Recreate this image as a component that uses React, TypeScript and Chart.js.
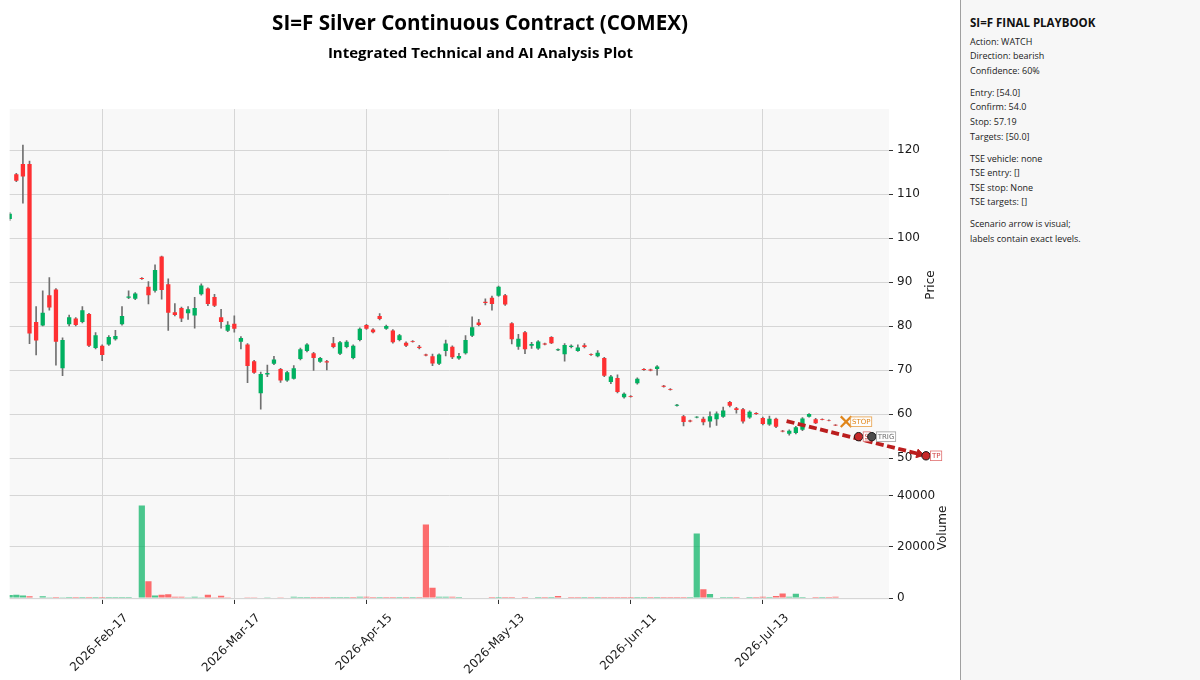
import React, { useEffect, useRef } from "react";
import { Chart, registerables } from "chart.js";

Chart.register(...registerables);

// ---------- DATA ----------
const opens = [
  104.3, 114.5, 116.8, 116.8, 80.9, 80.1, 87.0, 88.3, 70.4, 80.4,
  81.7, 80.9, 82.7, 75.0, 75.5, 75.8, 77.0, 80.4, 86.4, 86.2,
  90.9, 88.9, 88.0, 95.8, 89.5, 83.1, 84.1, 82.9, 82.4, 87.2,
  88.5, 86.6, 82.0, 78.9, 80.5, 76.4, 75.8, 72.0, 64.7, 69.0,
  71.4, 70.2, 67.6, 68.0, 72.5, 74.3, 73.8, 71.9, 72.0, 76.1,
  73.7, 75.2, 72.7, 76.8, 80.2, 79.2, 82.3, 79.4, 79.0, 76.8,
  76.2, 76.6, 75.3, 73.5, 73.1, 71.4, 74.3, 75.3, 72.6, 73.8,
  77.8, 80.8, 85.5, 86.4, 86.9, 87.0, 80.6, 75.3, 78.6, 75.5,
  74.9, 76.0, 77.5, 74.5, 73.6, 75.2, 74.3, 75.6, 73.6, 73.1,
  72.7, 67.3, 68.2, 63.8, 64.1, 67.0, 70.2, 70.1, 70.2, 66.4,
  65.7, 61.9, 59.5, 58.5, 59.2, 58.9, 58.3, 58.8, 59.4, 62.7,
  61.3, 61.1, 59.2, 60.2, 59.1, 57.6, 58.9, 56.2, 55.5, 55.7,
  56.4, 59.4, 58.8, 58.85, 58.65, 57.55,
];
const highs = [
  105.8, 114.7, 121.1, 117.5, 84.4, 88.0, 91.0, 88.5, 77.3, 82.5,
  81.9, 84.4, 82.9, 78.5, 75.7, 77.8, 79.0, 84.4, 88.0, 87.6,
  91.0, 90.1, 93.9, 95.9, 90.7, 85.1, 84.3, 84.4, 86.5, 89.6,
  88.7, 87.2, 83.8, 81.0, 82.3, 77.6, 76.0, 72.2, 69.5, 71.1,
  73.1, 70.4, 69.7, 71.0, 75.0, 76.0, 74.0, 72.9, 72.2, 77.4,
  76.5, 76.7, 75.7, 79.6, 80.4, 79.4, 82.8, 80.2, 79.2, 78.1,
  76.4, 76.7, 75.6, 73.6, 73.6, 73.7, 76.8, 75.5, 73.8, 77.8,
  82.1, 81.5, 86.2, 86.8, 89.1, 87.2, 80.8, 78.1, 78.8, 76.3,
  76.7, 76.1, 77.6, 74.8, 76.0, 75.7, 75.7, 76.0, 73.7, 74.4,
  72.9, 68.8, 68.9, 64.8, 64.2, 68.2, 70.3, 70.2, 71.0, 66.5,
  65.8, 62.2, 59.7, 58.6, 59.4, 59.3, 60.5, 60.5, 61.6, 62.9,
  61.5, 61.3, 60.7, 60.3, 59.3, 59.5, 59.1, 56.3, 56.4, 57.2,
  59.2, 60.1, 59.0, 58.9, 58.7, 57.6,
];
const lows = [
  104.0, 112.8, 107.9, 76.0, 73.4, 80.0, 83.6, 71.1, 68.7, 80.0,
  80.0, 80.7, 75.3, 74.8, 72.1, 75.6, 76.8, 80.2, 86.2, 86.0,
  90.6, 85.0, 87.7, 86.1, 79.0, 82.3, 81.0, 81.5, 79.5, 87.0,
  84.6, 84.4, 79.5, 78.7, 78.6, 74.8, 67.1, 69.2, 61.1, 68.5,
  71.2, 67.2, 67.4, 67.9, 72.3, 74.1, 69.9, 71.7, 70.0, 75.0,
  73.5, 75.0, 72.5, 76.6, 79.2, 78.4, 81.4, 79.2, 76.1, 76.6,
  75.3, 76.3, 74.8, 73.2, 71.0, 71.2, 73.2, 72.6, 72.4, 73.6,
  77.6, 80.0, 84.8, 83.6, 86.7, 84.7, 75.9, 74.7, 73.7, 74.9,
  74.7, 75.7, 76.0, 74.4, 72.0, 75.0, 74.2, 75.0, 73.3, 73.0,
  68.5, 66.9, 64.8, 63.6, 63.8, 66.8, 69.9, 69.8, 68.8, 66.1,
  65.4, 61.8, 57.3, 58.2, 59.1, 57.5, 57.0, 57.4, 59.2, 61.6,
  60.2, 57.9, 59.0, 59.9, 57.5, 57.4, 56.9, 55.9, 55.2, 55.5,
  56.2, 59.3, 57.8, 58.65, 58.45, 57.35,
];
const closes = [
  105.5, 113.0, 114.0, 78.3, 76.7, 83.0, 84.2, 76.4, 76.8, 82.0,
  80.2, 83.6, 75.5, 77.9, 73.4, 77.5, 77.7, 82.3, 86.7, 87.4,
  90.7, 87.0, 92.7, 88.2, 83.0, 82.5, 81.7, 83.8, 84.1, 89.2,
  85.0, 84.6, 80.9, 80.3, 79.4, 77.3, 70.9, 69.4, 69.1, 69.3,
  72.4, 67.6, 69.5, 70.4, 74.7, 75.8, 72.7, 72.7, 71.7, 75.2,
  76.3, 76.4, 75.5, 79.4, 79.4, 78.6, 81.6, 80.0, 76.3, 77.9,
  75.5, 76.4, 75.0, 73.3, 71.5, 73.5, 76.0, 72.9, 73.2, 76.8,
  79.7, 80.2, 85.2, 85.0, 88.9, 84.9, 77.0, 77.1, 74.7, 75.9,
  76.5, 75.8, 76.1, 74.7, 75.7, 75.5, 75.1, 75.2, 73.4, 73.9,
  68.7, 68.5, 65.0, 64.6, 63.9, 68.0, 70.0, 69.9, 70.8, 66.2,
  65.5, 62.1, 58.2, 58.3, 59.35, 58.1, 59.5, 60.1, 60.8, 61.9,
  60.9, 58.3, 60.5, 60.0, 57.7, 58.9, 57.1, 56.0, 56.2, 57.0,
  59.0, 60.0, 57.9, 58.7, 58.5, 57.4,
];
const volumes = [
  1200, 1300, 1000, 700, 150, 700, 60, 400, 60, 400,
  40, 40, 40, 40, 40, 40, 40, 40, 40, 150,
  36300, 6600, 1000, 1300, 1500, 500, 500, 100, 500, 100,
  1300, 100, 900, 60, 200, 200, 60, 60, 150, 60,
  150, 60, 150, 500, 40, 40, 40, 40, 40, 40,
  40, 40, 40, 500, 500, 40, 40, 40, 40, 40,
  40, 40, 40, 28800, 4000, 500, 500, 500, 40, 150,
  150, 150, 150, 40, 40, 40, 40, 150, 40, 150,
  40, 40, 40, 800, 150, 40, 40, 40, 40, 40,
  40, 40, 40, 40, 40, 40, 40, 40, 40, 40,
  40, 40, 40, 40, 25300, 3400, 1600, 200, 40, 40,
  40, 200, 40, 40, 500, 40, 800, 1800, 500, 1700,
  40, 200, 40, 40, 40, 500,
];

const dateTickIndex = [14, 34, 54, 74, 94, 114];
const dateTickLabels = ["2026-Feb-17", "2026-Mar-17", "2026-Apr-15", "2026-May-13", "2026-Jun-11", "2026-Jul-13"];
const priceTicks = [50, 60, 70, 80, 90, 100, 110, 120];
const volumeTicks = [0, 20000, 40000];
const indexRange = [0, 133.1];
const priceRange = [45.0, 129.32];
const volumeRange = [-784, 46270];

// scenario arrow (start -> arrow head) and playbook markers
const scenarioX = [117.6, 137.7];
const scenarioY = [58.4, 50.9];
const markerNames = ["STOP", "S", "TRIG", "TP"];
const markerX = [126.6, 128.5, 130.5, 138.7];
const markerY = [58.25, 54.85, 54.85, 50.5];

const chartTitle = "SI=F Silver Continuous Contract (COMEX)";
const chartSubtitle = "Integrated Technical and AI Analysis Plot";
const priceAxisTitle = "Price";
const volumeAxisTitle = "Volume";

const panelTitle = "SI=F FINAL PLAYBOOK";
const panelGroups = [
  ["Action: WATCH", "Direction: bearish", "Confidence: 60%"],
  ["Entry: [54.0]", "Confirm: 54.0", "Stop: 57.19", "Targets: [50.0]"],
  ["TSE vehicle: none", "TSE entry: []", "TSE stop: None", "TSE targets: []"],
  ["Scenario arrow is visual;", "labels contain exact levels."],
];

// ---------- STYLE ----------
const UP = "#00b060";
const DOWN = "#fe3032";
const UP_VOL = "rgba(0,176,96,0.7)";
const DOWN_VOL = "rgba(254,48,50,0.7)";
const WICK = "#707070";
const PANEL_BG = "#f8f8f8";
const GRID = "#d6d6d6";
const MPL_FONT = "'DejaVu Sans', sans-serif";
const TITLE_FONT = "'Open Sans', sans-serif";
const ARROW = "#bb1e1e";

const markerStyles: Record<string, any> = {
  STOP: { pointStyle: "crossRot", radius: 7.5, bg: "#e0861a", border: "#e0861a", bw: 2.2, text: "#e0861a", box: "#e8a048" },
  S: { pointStyle: "circle", radius: 4.2, bg: "#c62828", border: "#1a1a1a", bw: 1, text: "#d04040", box: "#e07070" },
  TRIG: { pointStyle: "circle", radius: 4.2, bg: "#4d4d4d", border: "#1a1a1a", bw: 1, text: "#707070", box: "#a0a0a0" },
  TP: { pointStyle: "circle", radius: 4.2, bg: "#c62828", border: "#1a1a1a", bw: 1, text: "#d04040", box: "#e07070" },
};

const decorPlugin = {
  id: "decor",
  beforeDraw(chart: any) {
    const { ctx, chartArea } = chart;
    const yP = chart.scales.y;
    const yV = chart.scales.yVol;
    ctx.save();
    ctx.fillStyle = "#ffffff";
    ctx.fillRect(0, 0, chart.width, chart.height);
    ctx.fillStyle = PANEL_BG;
    ctx.fillRect(chartArea.left, yP.top, chartArea.right - chartArea.left, yP.bottom - yP.top);
    ctx.fillRect(chartArea.left, yV.top, chartArea.right - chartArea.left, yV.bottom - yV.top);
    ctx.restore();
  },
  afterDatasetDraw(chart: any, args: any) {
    const ds = chart.data.datasets[args.index];
    const ctx = chart.ctx;
    const area = chart.chartArea;
    // points lying beyond the plot area (scenario end) are still drawn by the point element itself
    if (ds.drawOutside) {
      const full = { left: 0, top: 0, right: chart.width, bottom: chart.height };
      args.meta.data.forEach((pt: any) => {
        if (pt.x > area.right || pt.x < area.left || pt.y < area.top || pt.y > area.bottom) {
          ctx.save();
          pt.draw(ctx, full);
          ctx.restore();
        }
      });
    }
    if (!ds.markerName) return;
    const st = markerStyles[ds.markerName];
    const pt = args.meta.data[0];
    if (!pt) return;
    ctx.save();
    ctx.font = `7px ${MPL_FONT}`;
    const w = ctx.measureText(ds.markerName).width + 2.6;
    const h = 9.6;
    const x0 = pt.x + 4.6;
    const y0 = pt.y - h / 2;
    ctx.fillStyle = "rgba(255,255,255,0.75)";
    ctx.fillRect(x0, y0, w, h);
    ctx.strokeStyle = st.box;
    ctx.lineWidth = 0.8;
    ctx.strokeRect(x0, y0, w, h);
    ctx.fillStyle = st.text;
    ctx.textBaseline = "middle";
    ctx.textAlign = "left";
    ctx.fillText(ds.markerName, x0 + 1.3, pt.y + 0.3);
    ctx.restore();
  },
  afterDraw(chart: any) {
    const ctx = chart.ctx;
    ctx.save();
    ctx.fillStyle = "#000";
    ctx.textAlign = "center";
    ctx.textBaseline = "alphabetic";
    ctx.font = `bold 20.6px ${TITLE_FONT}`;
    ctx.fillText(chartTitle, 480, 29.5);
    ctx.font = `bold 15px ${TITLE_FONT}`;
    ctx.fillText(chartSubtitle, 480.5, 57.5);
    ctx.fillStyle = "#1a1a1a";
    ctx.font = `12px ${MPL_FONT}`;
    ctx.textBaseline = "middle";
    ctx.translate(931, 285);
    ctx.rotate(-Math.PI / 2);
    ctx.fillText(priceAxisTitle, 0, 0);
    ctx.restore();
    ctx.save();
    ctx.fillStyle = "#1a1a1a";
    ctx.font = `12px ${MPL_FONT}`;
    ctx.textAlign = "center";
    ctx.textBaseline = "middle";
    ctx.translate(943, 528);
    ctx.rotate(-Math.PI / 2);
    ctx.fillText(volumeAxisTitle, 0, 0);
    ctx.restore();
  },
};

export default function App() {
  const canvasRef = useRef<HTMLCanvasElement | null>(null);

  useEffect(() => {
    if (!canvasRef.current) return;
    const idx = opens.map((_, i) => i);
    const bodyColors = idx.map((i) => (closes[i] >= opens[i] ? UP : DOWN));
    const volColors = idx.map((i) => (i === 0 || closes[i] > closes[i - 1] ? UP_VOL : DOWN_VOL));

    const markerDatasets = markerNames
      .map((name, k) => {
        const st = markerStyles[name];
        return {
          type: "line",
          label: name,
          markerName: name,
          drawOutside: true,
          data: [{ x: markerX[k], y: markerY[k] }],
          showLine: false,
          clip: false,
          yAxisID: "y",
          pointStyle: st.pointStyle,
          pointRadius: st.radius,
          pointBackgroundColor: st.bg,
          pointBorderColor: st.border,
          pointBorderWidth: st.bw,
        };
      })
      .reverse();

    const tickFont = { family: MPL_FONT, size: 12 };
    const axisGrid = { color: GRID, lineWidth: 1, tickLength: 4, tickColor: "#333", tickWidth: 1, drawTicks: true, offset: false };

    const chart = new Chart(canvasRef.current, {
      type: "bar",
      data: {
        datasets: [
          ...markerDatasets,
          {
            type: "line",
            label: "arrowhead",
            drawOutside: true,
            data: [{ x: scenarioX[1], y: scenarioY[1] }],
            showLine: false,
            clip: false,
            yAxisID: "y",
            pointStyle: "triangle",
            pointRadius: 5,
            pointRotation: 104,
            pointBackgroundColor: ARROW,
            pointBorderColor: ARROW,
            pointBorderWidth: 1,
          },
          {
            type: "line",
            label: "scenario",
            data: scenarioX.map((x, k) => ({ x, y: scenarioY[k] })),
            borderColor: ARROW,
            borderWidth: 3.8,
            borderDash: [8, 3.5],
            pointRadius: 0,
            clip: false,
            yAxisID: "y",
          },
          {
            type: "bar",
            label: "body",
            data: idx.map((i) => ({ x: i, y: [opens[i], closes[i]] })),
            backgroundColor: bodyColors,
            borderWidth: 0,
            grouped: false,
            categoryPercentage: 1,
            barPercentage: 0.65,
            yAxisID: "y",
          },
          {
            type: "bar",
            label: "wick",
            data: idx.map((i) => ({ x: i, y: [lows[i], highs[i]] })),
            backgroundColor: WICK,
            borderWidth: 0,
            grouped: false,
            categoryPercentage: 1,
            barPercentage: 1,
            maxBarThickness: 1,
            yAxisID: "y",
          },
          {
            type: "bar",
            label: "volume",
            data: idx.map((i) => ({ x: i, y: volumes[i] })),
            backgroundColor: volColors,
            borderWidth: 0,
            grouped: false,
            categoryPercentage: 1,
            barPercentage: 0.94,
            yAxisID: "yVol",
          },
        ] as any,
      },
      options: {
        responsive: false,
        animation: false,
        events: [],
        layout: { padding: { top: 109, left: 8, right: 0, bottom: 0 } },
        plugins: { legend: { display: false }, tooltip: { enabled: false } },
        scales: {
          x: {
            type: "linear",
            position: "bottom",
            min: indexRange[0],
            max: indexRange[1],
            offset: false,
            grid: axisGrid,
            border: { display: false },
            afterBuildTicks: (s: any) => {
              s.ticks = dateTickIndex.map((v) => ({ value: v }));
            },
            afterFit: (s: any) => {
              s.height = 80;
            },
            ticks: {
              autoSkip: false,
              minRotation: 45,
              maxRotation: 45,
              labelOffset: 24,
              padding: 7,
              color: "#1a1a1a",
              font: tickFont,
              callback: (v: any) => {
                const k = dateTickIndex.indexOf(Number(v));
                return k >= 0 ? dateTickLabels[k] : "";
              },
            },
          },
          y: {
            type: "linear",
            position: "right",
            stack: "panels",
            stackWeight: 371,
            min: priceRange[0],
            max: priceRange[1],
            beginAtZero: false,
            grid: axisGrid,
            border: { display: false },
            afterBuildTicks: (s: any) => {
              s.ticks = priceTicks.map((v) => ({ value: v }));
            },
            afterFit: (s: any) => {
              s.width = 71;
            },
            ticks: { padding: 4, color: "#1a1a1a", font: tickFont, callback: (v: any) => String(v) },
          },
          yVol: {
            type: "linear",
            position: "right",
            stack: "panels",
            stackWeight: 120,
            min: volumeRange[0],
            max: volumeRange[1],
            beginAtZero: false,
            grid: axisGrid,
            border: { display: false },
            afterBuildTicks: (s: any) => {
              s.ticks = volumeTicks.map((v) => ({ value: v }));
            },
            afterFit: (s: any) => {
              s.width = 71;
            },
            ticks: { padding: 4, color: "#1a1a1a", font: tickFont, callback: (v: any) => String(v) },
          },
        },
      } as any,
      plugins: [decorPlugin as any],
    });
    return () => chart.destroy();
  }, []);

  const lineStep = 14.6;
  const groupGap = 22;
  const bodySize = 9;
  let baseline = 45.3;
  const lines: { text: string; top: number }[] = [];
  panelGroups.forEach((g, gi) => {
    if (gi > 0) baseline += groupGap - lineStep;
    g.forEach((t) => {
      lines.push({ text: t, top: baseline - 1.069 * bodySize });
      baseline += lineStep;
    });
  });

  return (
    <div style={{ position: "fixed", left: 0, top: 0, width: 1200, height: 680, background: "#ffffff", overflow: "hidden" }}>
      <canvas ref={canvasRef} width={960} height={680} style={{ position: "absolute", left: 0, top: 0, width: 960, height: 680 }} />
      <div
        style={{
          position: "absolute",
          left: 960,
          top: -1,
          width: 240,
          height: 682,
          background: "#f7f7f7",
          borderLeft: "1px solid #a0a0a0",
          boxSizing: "border-box",
          fontFamily: TITLE_FONT,
          color: "#222",
        }}
      >
        <div
          style={{
            position: "absolute",
            left: 9,
            top: 1 + 27.3 - 1.069 * 11.5,
            fontSize: 11.5,
            fontWeight: 700,
            lineHeight: `${1.362 * 11.5}px`,
            color: "#111",
            whiteSpace: "nowrap",
          }}
        >
          {panelTitle}
        </div>
        {lines.map((l, i) => (
          <div
            key={i}
            style={{
              position: "absolute",
              left: 9,
              top: 1 + l.top,
              fontSize: bodySize,
              lineHeight: `${1.362 * bodySize}px`,
              whiteSpace: "nowrap",
            }}
          >
            {l.text}
          </div>
        ))}
      </div>
    </div>
  );
}
